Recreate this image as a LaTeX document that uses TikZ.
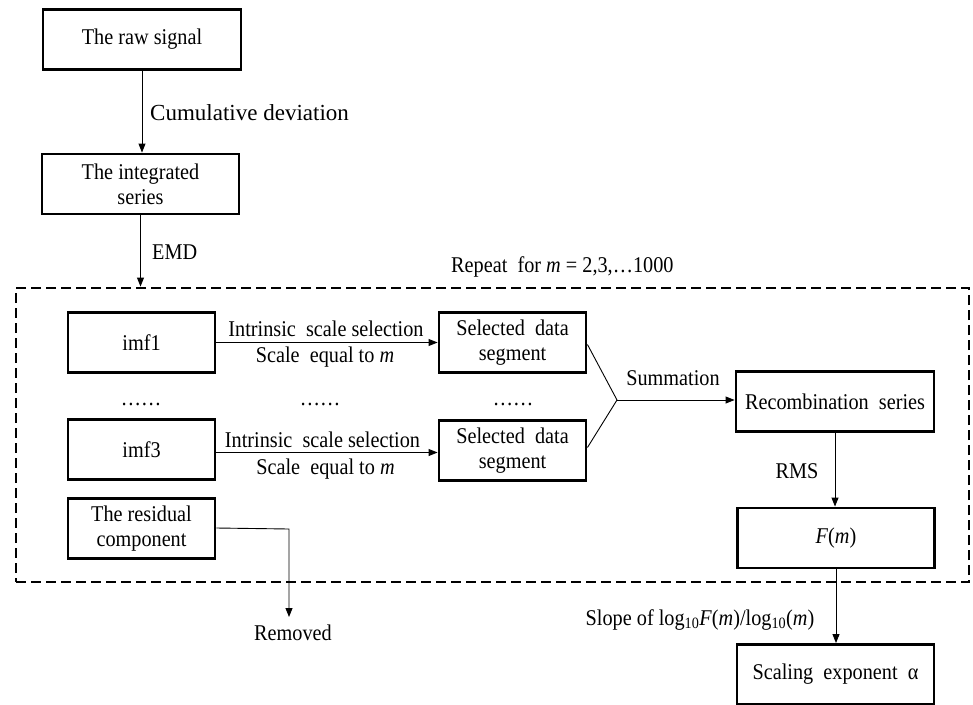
\documentclass[tikz,border=0pt]{standalone}
\usepackage{fontspec}
\setmainfont{Liberation Serif}[FakeStretch=0.9]
\newfontfamily\widefont{Liberation Serif}
\usetikzlibrary{arrows.meta}
\begin{document}
\begin{tikzpicture}[x=1pt,y=-1pt,
  box/.style={draw, line width=2.9pt, minimum width=#1, minimum height=60pt, align=center, inner sep=0pt, font=\fontsize{22.5}{25}\selectfont},
  box/.default=147pt,
  lbl/.style={font=\fontsize{22.5}{25}\selectfont, inner sep=1pt},
  conn/.style={line width=0.9pt, -{Triangle[length=9pt,width=7pt]}},
  plainline/.style={line width=0.9pt},
  loopbox/.style={draw, line width=2.9pt, dash pattern=on 10pt off 5pt, minimum width=953pt, minimum height=294pt, inner sep=0pt}]
\useasboundingbox (0,0) rectangle (973,704);

% nodes
\node[box=198pt] (raw) at (142,39.5) {The raw signal};
\node[box=197pt] (integ) at (140.5,184) {The integrated\\series};
\node[loopbox] (loop) at (492.5,435) {};
\node[box] (imf1) at (141.5,342.5) {imf1};
\node[box] (imf3) at (141.5,449.5) {imf3};
\node[box] (resid) at (141.5,528.5) {The residual\\component};
\node[box] (sel1) at (512.5,342.5) {Selected\ \ data\\segment};
\node[box] (sel2) at (512.5,450.5) {Selected\ \ data\\segment};
\node[box=198pt] (recomb) at (835,401.5) {Recombination\ \ series};
\node[box=197pt] (fm) at (836,538) {\textit{F}(\textit{m})};
\node[box=197pt] (scal) at (835.5,674.5) {Scaling\ \ exponent\ \ α};
\node[lbl, inner sep=0pt] (removed) at (293,633) {Removed};

% labels
\node[lbl, anchor=west, font=\widefont\fontsize{23}{28}\selectfont] (cumlbl) at (149,113) {Cumulative deviation};
\node[lbl, anchor=west] (emdlbl) at (151,252) {EMD};
\node[lbl, anchor=west] (replbl) at (450,267) {Repeat\ \ for \textit{m} = 2,3,…1000};
\node[lbl] (isa) at (326,329) {Intrinsic\ \ scale selection};
\node[lbl] (sea) at (325,357) {Scale\ \ equal to \textit{m}};
\node[lbl] (isb) at (322.5,440) {Intrinsic\ \ scale selection};
\node[lbl] (seb) at (325.5,469) {Scale\ \ equal to \textit{m}};
\node[lbl] (dots1) at (141,404) {……};
\node[lbl] (dots2) at (320,404) {……};
\node[lbl] (dots3) at (513,404) {……};
\node[lbl] (sumlbl) at (673,378) {Summation};
\node[lbl] (rmslbl) at (797,471) {RMS};
\node[lbl] (slopelbl) at (700,620) {Slope of log\textsubscript{10}\textit{F}(\textit{m})/log\textsubscript{10}(\textit{m})};

\coordinate (join) at (617,400);
\coordinate (rbend) at (289,529);
\coordinate (remtop) at (289,617);

% connectors
\draw[conn] (raw.south) -- (raw.south |- integ.north);
\draw[conn] (integ.south) -- (integ.south |- loop.north);
\draw[conn] (imf1.east) -- (sel1.west);
\draw[conn] ([yshift=-3pt]imf3.east) -- ([yshift=-3pt]imf3.east -| sel2.west);
\draw[plainline] ([yshift=-2pt]sel1.east) -- (join);
\draw[plainline] ([yshift=3pt]sel2.east) -- (join);
\draw[conn] (join) -- (join -| recomb.west);
\draw[conn] (recomb.south) -- (recomb.south |- fm.north);
\draw[conn] (fm.south) -- (fm.south |- scal.north);
\draw[conn] ([yshift=0.5pt]resid.east) -- (rbend) -- (remtop);
\end{tikzpicture}
\end{document}
